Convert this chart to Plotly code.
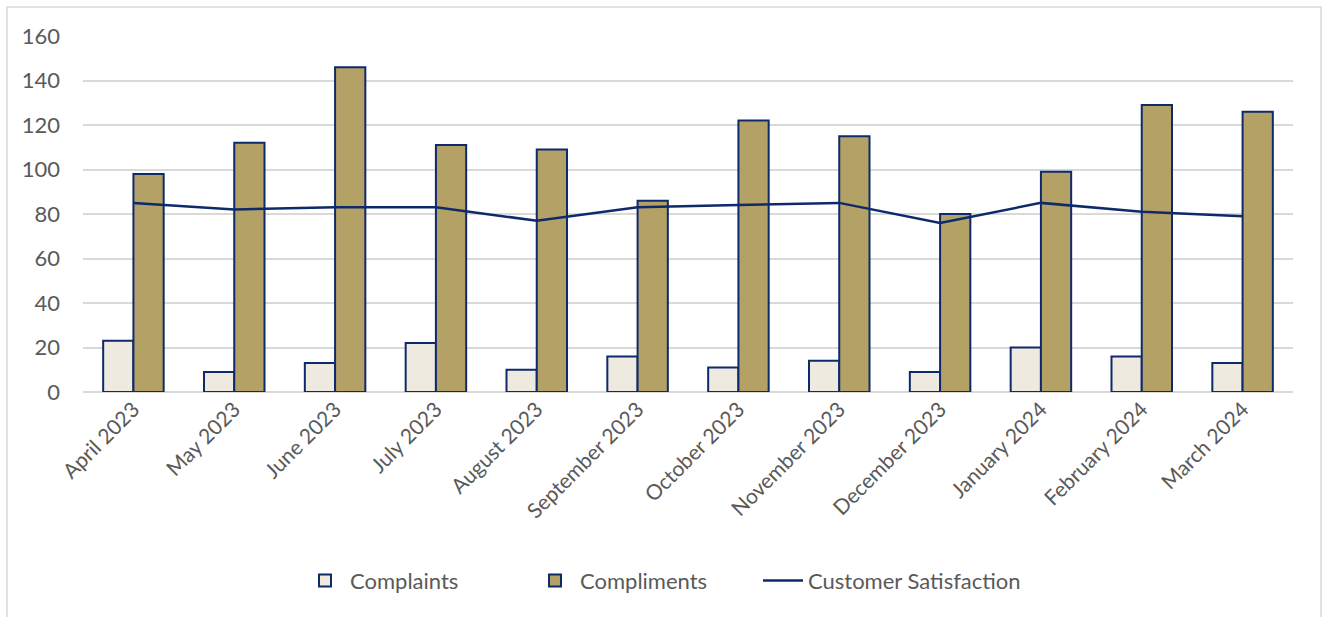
import plotly.graph_objects as go

months = ["April 2023", "May 2023", "June 2023", "July 2023", "August 2023",
          "September 2023", "October 2023", "November 2023", "December 2023",
          "January 2024", "February 2024", "March 2024"]
complaints = [23, 9, 13, 22, 10, 16, 11, 14, 9, 20, 16, 13]
compliments = [98, 112, 146, 111, 109, 86, 122, 115, 80, 99, 129, 126]
satisfaction = [85, 82, 83, 83, 77, 83, 84, 85, 76, 85, 81, 79]

navy = "#0E2A6B"
font_family = "Lato, 'Open Sans', sans-serif"
grey = "#595959"

fig = go.Figure()
fig.add_trace(go.Bar(x=months, y=complaints, name="Complaints", legend="legend",
                     marker=dict(color="#EEEAE0", line=dict(color=navy, width=2))))
fig.add_trace(go.Bar(x=months, y=compliments, name="Compliments", legend="legend2",
                     marker=dict(color="#B4A166", line=dict(color=navy, width=2))))
fig.add_trace(go.Scatter(x=months, y=satisfaction, name="Customer Satisfaction",
                         legend="legend3",
                         mode="lines", line=dict(color=navy, width=2.5)))


def leg(px):
    return dict(orientation="h", x=(px - 83) / 1210, xanchor="left", y=-0.53,
                yanchor="middle", font=dict(size=22, color=grey), itemwidth=40,
                bgcolor="rgba(0,0,0,0)")


fig.update_layout(
    width=1323, height=617,
    margin=dict(l=83, r=30, t=36, b=225),
    paper_bgcolor="white", plot_bgcolor="white",
    barmode="group", bargap=0.4, bargroupgap=0,
    font=dict(family=font_family, color=grey, size=21),
    showlegend=True,
    legend=leg(300), legend2=leg(530), legend3=leg(758),
    xaxis=dict(tickangle=-45, showgrid=False, showline=False, ticks="",
               tickfont=dict(size=21, color=grey)),
    yaxis=dict(range=[0, 160], dtick=20, showgrid=True, gridcolor="#D9D9D9",
               gridwidth=1.5, zeroline=True, zerolinecolor="#D9D9D9", zerolinewidth=1.5,
               showline=False, ticks="", tickfont=dict(size=22, color=grey),
               ticklabelstandoff=22),
    shapes=[dict(type="rect", xref="paper", yref="paper",
                 x0=(7 - 83) / 1210, x1=(1321 - 83) / 1210,
                 y0=(392 - 640) / 356, y1=(392 - 7) / 356,
                 line=dict(color="#D9D9D9", width=1.5), fillcolor="rgba(0,0,0,0)",
                 layer="below")],
)

fig.write_html("out.html")
